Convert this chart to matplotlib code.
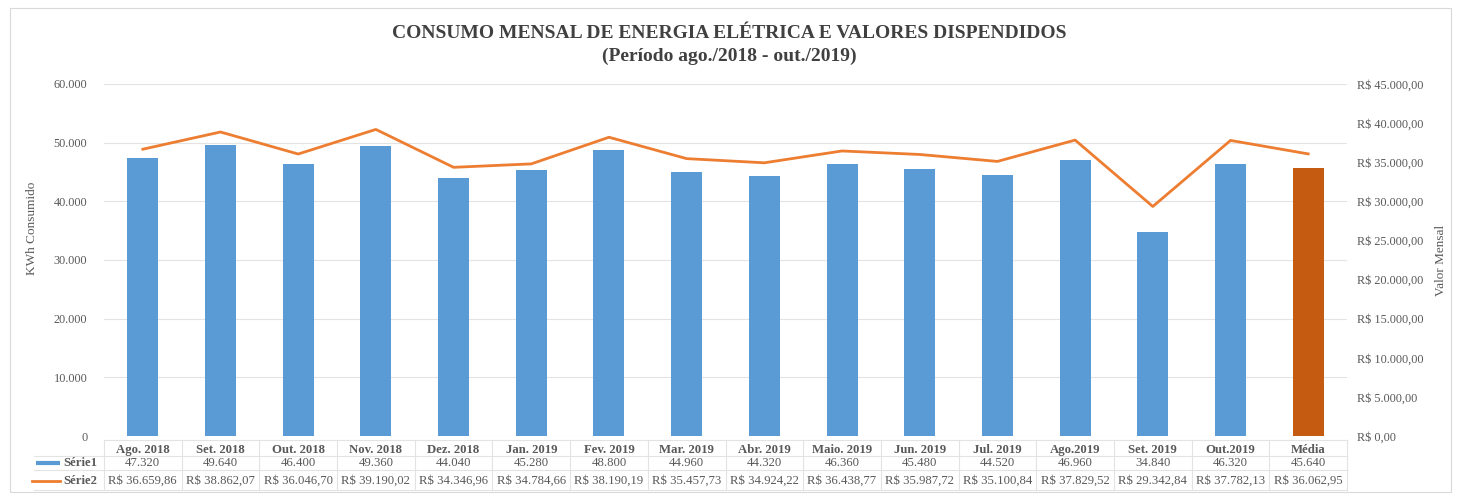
import numpy as np
import matplotlib.pyplot as plt
from matplotlib.ticker import FuncFormatter
from matplotlib.patches import Rectangle
import matplotlib.transforms as mtransforms

# Dados do gráfico
meses = ['Ago. 2018', 'Set. 2018', 'Out. 2018', 'Nov. 2018', 'Dez. 2018',
         'Jan. 2019', 'Fev. 2019', 'Mar. 2019', 'Abr. 2019', 'Maio. 2019',
         'Jun. 2019', 'Jul. 2019', 'Ago.2019', 'Set. 2019', 'Out.2019', 'Média']
kwh = [47320, 49640, 46400, 49360, 44040, 45280, 48800, 44960, 44320,
       46360, 45480, 44520, 46960, 34840, 46320, 45640]
valor = [36659.86, 38862.07, 36046.70, 39190.02, 34346.96, 34784.66,
         38190.19, 35457.73, 34924.22, 36438.77, 35987.72, 35100.84,
         37829.52, 29342.84, 37782.13, 36062.95]

AZUL = '#5B9BD5'
LARANJA = '#ED7D31'
LARANJA_ESC = '#C55A11'
CINZA = '#595959'
GRADE = '#E3E3E3'

plt.rcParams['font.family'] = ['Liberation Serif', 'DejaVu Serif']


def fmt_milhar(v):
    return f'{v:,.0f}'.replace(',', '.')


def fmt_real(v):
    s = f'{v:,.2f}'.replace(',', 'X').replace('.', ',').replace('X', '.')
    return 'R$ ' + s


fig = plt.figure(figsize=(14.58, 4.94), dpi=100)
fig.patches.append(Rectangle((0.007, 0.005), 0.988, 0.978, transform=fig.transFigure,
                             fill=False, edgecolor='#D9D9D9', lw=0.8))

ax = fig.add_axes([0.0713, 0.1174, 0.8526, 0.7126])
x = np.arange(len(meses))
cores = [AZUL] * (len(meses) - 1) + [LARANJA_ESC]
ax.bar(x, kwh, width=0.4, color=cores, zorder=3)
ax.set_xlim(-0.5, len(meses) - 0.5)
ax.set_ylim(0, 60000)
ax.set_yticks(np.arange(0, 60001, 10000))
ax.yaxis.set_major_formatter(FuncFormatter(lambda v, p: fmt_milhar(v)))
ax.grid(axis='y', color=GRADE, lw=0.8, zorder=0)
ax.set_xticks([])
for s in ax.spines.values():
    s.set_visible(False)
ax.tick_params(axis='y', length=0, labelsize=8.8, labelcolor=CINZA, pad=12)
ax.set_ylabel('KWh Consumido', fontsize=9.5, color=CINZA)
ax.yaxis.set_label_coords(-0.053, 0.59)

ax2 = ax.twinx()
ax2.plot(x, valor, color=LARANJA, lw=2, zorder=4)
ax2.set_ylim(0, 45000)
ax2.set_yticks(np.arange(0, 45001, 5000))
ax2.yaxis.set_major_formatter(FuncFormatter(lambda v, p: fmt_real(v)))
for s in ax2.spines.values():
    s.set_visible(False)
ax2.tick_params(axis='y', length=0, labelsize=8.8, labelcolor=CINZA, pad=7)
ax2.set_ylabel('Valor Mensal', fontsize=9.5, color=CINZA)
ax2.yaxis.set_label_coords(1.071, 0.5)

# Tabela de dados abaixo do gráfico
trans = mtransforms.blended_transform_factory(ax.transData, ax.transAxes)
y_cab, y_s1, y_s2 = -0.040, -0.076, -0.128
linhas_h = [-0.011, -0.057, -0.097, -0.153]
for i, m in enumerate(meses):
    ax.text(i, y_cab, m, transform=trans, ha='center', va='center',
            fontsize=9.2, fontweight='bold', color=CINZA, clip_on=False)
    ax.text(i, y_s1, fmt_milhar(kwh[i]), transform=trans, ha='center', va='center',
            fontsize=9.2, color=CINZA, clip_on=False)
    ax.text(i, y_s2, fmt_real(valor[i]), transform=trans, ha='center', va='center',
            fontsize=9.2, color=CINZA, clip_on=False)
for k in range(len(meses) + 1):
    ax.plot([k - 0.5, k - 0.5], [linhas_h[0], linhas_h[-1]], transform=trans,
            color=GRADE, lw=0.8, clip_on=False)
for j, yl in enumerate(linhas_h):
    x0 = -0.5 if j == 0 else -1.4
    ax.plot([x0, len(meses) - 0.5], [yl, yl], transform=trans,
            color=GRADE, lw=0.8, clip_on=False)

# Legenda dentro da tabela
ax.plot([-0.055, -0.035], [y_s1, y_s1], transform=ax.transAxes, color=AZUL, lw=3,
        clip_on=False, solid_capstyle='butt')
ax.text(-0.033, y_s1, 'Série1', transform=ax.transAxes, ha='left', va='center',
        fontsize=9.2, fontweight='bold', color=CINZA, clip_on=False)
ax.plot([-0.058, -0.035], [y_s2, y_s2], transform=ax.transAxes, color=LARANJA, lw=2,
        clip_on=False)
ax.text(-0.033, y_s2, 'Série2', transform=ax.transAxes, ha='left', va='center',
        fontsize=9.2, fontweight='bold', color=CINZA, clip_on=False)

fig.text(0.5, 0.933, 'CONSUMO MENSAL DE ENERGIA ELÉTRICA E VALORES DISPENDIDOS',
         ha='center', va='center', fontsize=14, fontweight='bold', color='#404040')
fig.text(0.5, 0.885, '(Período ago./2018 - out./2019)',
         ha='center', va='center', fontsize=14, fontweight='bold', color='#404040')

fig.savefig('out.png', dpi=100)
